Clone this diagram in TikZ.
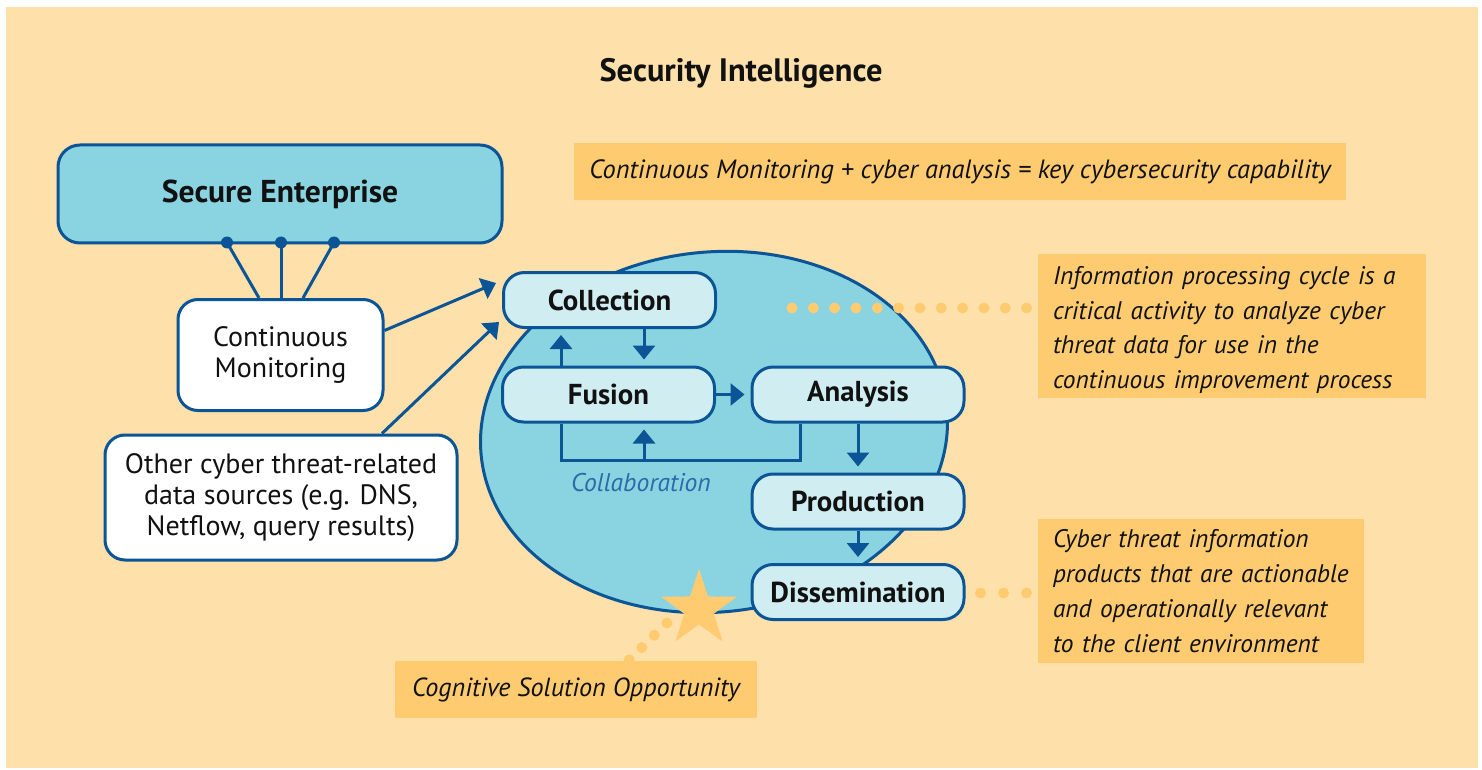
\documentclass[tikz,border=0pt]{standalone}
\usepackage{fontspec}
\setmainfont{PT Sans}
\usetikzlibrary{calc,arrows.meta}
\definecolor{bgBeige}{HTML}{FEE0AB}
\definecolor{noteOrange}{HTML}{FECB70}
\definecolor{seTeal}{HTML}{89D4E0}
\definecolor{stageFill}{HTML}{D0EDF2}
\definecolor{navyLine}{HTML}{0B5596}
\definecolor{collabBlue}{HTML}{2A6BA8}
\definecolor{inkBlack}{HTML}{111111}
\begin{document}
\begin{tikzpicture}[x=0.5pt,y=-0.5pt,
  bigbox/.style={draw=navyLine,line width=1.5pt,rounded corners=11pt,fill=seTeal,inner sep=0,
    font=\bfseries\fontsize{15.8}{18}\selectfont,text=inkBlack},
  wbox/.style={draw=navyLine,line width=1.5pt,rounded corners=10pt,fill=white,inner sep=0,align=center,
    font=\fontsize{14}{15.5}\selectfont,text=inkBlack},
  stage/.style={draw=navyLine,line width=1.5pt,rounded corners=10.5pt,fill=stageFill,inner sep=0,
    font=\bfseries\fontsize{14.4}{16}\selectfont,text=inkBlack,minimum width=106pt,minimum height=27.5pt},
  note/.style={fill=noteOrange,inner sep=0,font=\itshape\fontsize{12.7}{17.4}\selectfont,text=inkBlack},
  conn/.style={draw=navyLine,line width=1.5pt},
  arr/.style={draw=navyLine,line width=1.5pt,-{Triangle[width=11pt,length=7pt]},shorten >=3pt},
  dotline/.style={draw=noteOrange,line width=5.5pt,line cap=round}
]
\useasboundingbox (0,0) rectangle (1482,770);
\fill[white] (0,0) rectangle (1482,770);
\fill[bgBeige] (6,7) rectangle (1478,768);

% title
\node[font=\bfseries\fontsize{16.2}{19}\selectfont,text=inkBlack] (title) at (741,73) {Security Intelligence};

% ellipse (processing cycle)
\draw[draw=navyLine,line width=1.5pt,fill=seTeal,rotate around={6:(714,432)}]
  (714,432) ellipse [x radius=117pt,y radius=90pt];

% dotted leaders
\coordinate (dA) at (792,308);
\coordinate (dS) at (667,623);
\coordinate (dSe) at (629,660);
\draw[dotline,dash pattern=on 0pt off 10.66pt] (dA) -- (1027.5,308);
\draw[dotline,dash pattern=on 0pt off 8.8pt] (dS) -- (dSe);

% left nodes
\node[bigbox,minimum width=222pt,minimum height=49pt] (se) at (280,194) {Secure Enterprise};
\node[wbox,minimum width=102.5pt,minimum height=55.5pt] (cm) at (280.5,355) {Continuous\\Monitoring};
\node[wbox,minimum width=176pt,minimum height=62.5pt] (other) at (281,497.5)
  {Other cyber threat-related\\data sources (e.g. DNS,\\Netflow, query results)};

\coordinate (p1) at ($(se.south)+(-53,-2)$);
\coordinate (p2) at ($(se.south)+(1,-2)$);
\coordinate (p3) at ($(se.south)+(54,-2)$);
\draw[conn] (p1) -- ($(cm.north)+(-21.5,0)$);
\draw[conn] (p2) -- ($(cm.north)+(0.5,0)$);
\draw[conn] (p3) -- ($(cm.north)+(22.5,0)$);
\foreach \p in {p1,p2,p3} \fill[navyLine] (\p) circle (3pt);

% stages
\node[stage] (coll) at (609.5,300) {Collection};
\node[stage] (fus) at (608.5,394.5) {Fusion};
\node[stage] (ana) at (858,394.5) {Analysis};
\node[stage] (prod) at (858,501.5) {Production};
\node[stage] (diss) at (858,592) {Dissemination};

% inputs
\draw[arr,shorten >=0pt] ($(cm.east)+(0,-24.5)$) -- ($(coll.west)+(-6,-17)$);
\draw[arr,shorten >=0pt] ($(other.north)+(101,0)$) -- ($(coll.south west)+(-3,-7)$);

% cycle arrows
\draw[arr] ($(coll.south)+(34.5,0)$) -- ($(fus.north)+(35.5,0)$);
\draw[arr] ($(fus.north)+(-47.5,0)$) -- ($(coll.south)+(-48.5,0)$);
\draw[arr] (fus.east) -- (ana.west);
\draw[arr] (ana.south) -- (prod.north);
\draw[arr] (prod.south) -- (diss.north);

% collaboration loop
\coordinate (cl) at ($(fus.south)+(-47.5,37)$);
\coordinate (cr) at ($(ana.south)+(-58,37)$);
\draw[conn] ($(fus.south)+(-47.5,0)$) -- (cl) -- (cr) -- ($(ana.south)+(-58,0)$);
\draw[arr] ($(fus.south)+(35.5,37)$) -- ($(fus.south)+(35.5,0)$);
\node[font=\itshape\fontsize{12.8}{14}\selectfont,text=collabBlue] (collab) at (641,483) {Collaboration};

% notes
\node[note,font=\itshape\fontsize{13.2}{15}\selectfont,minimum width=386pt,minimum height=28.5pt] (n1) at (960,171.5)
  {Continuous Monitoring + cyber analysis = key cybersecurity capability};
\node[note,minimum width=194pt,minimum height=72pt,text width=179pt,align=left] (n2) at (1232,326)
  {\rule{0pt}{13pt}Information processing cycle is a\\critical activity to analyze cyber\\threat data for use in the\\continuous improvement process};
\node[note,minimum width=163pt,minimum height=72pt,text width=148pt,align=left] (n3) at (1201,591)
  {Cyber threat information\\products that are actionable\\and operationally relevant\\to the client environment};
\node[note,font=\itshape\fontsize{13.1}{15}\selectfont,minimum width=181pt,minimum height=28.5pt] (n4) at (576,689.5)
  {Cognitive Solution Opportunity};

% dissemination leader
\draw[dotline,dash pattern=on 0pt off 11.5pt] ($(diss.east)+(15,1)$) -- ($(n3.west)+(-11,2)$);

% star
\coordinate (star) at (699,609);
\fill[noteOrange] ($(star)+(-90:40)$) -- ($(star)+(-54:15.5)$) -- ($(star)+(-18:40)$) -- ($(star)+(18:15.5)$)
  -- ($(star)+(54:40)$) -- ($(star)+(90:15.5)$) -- ($(star)+(126:40)$) -- ($(star)+(162:15.5)$)
  -- ($(star)+(198:40)$) -- ($(star)+(234:15.5)$) -- cycle;
\end{tikzpicture}
\end{document}
